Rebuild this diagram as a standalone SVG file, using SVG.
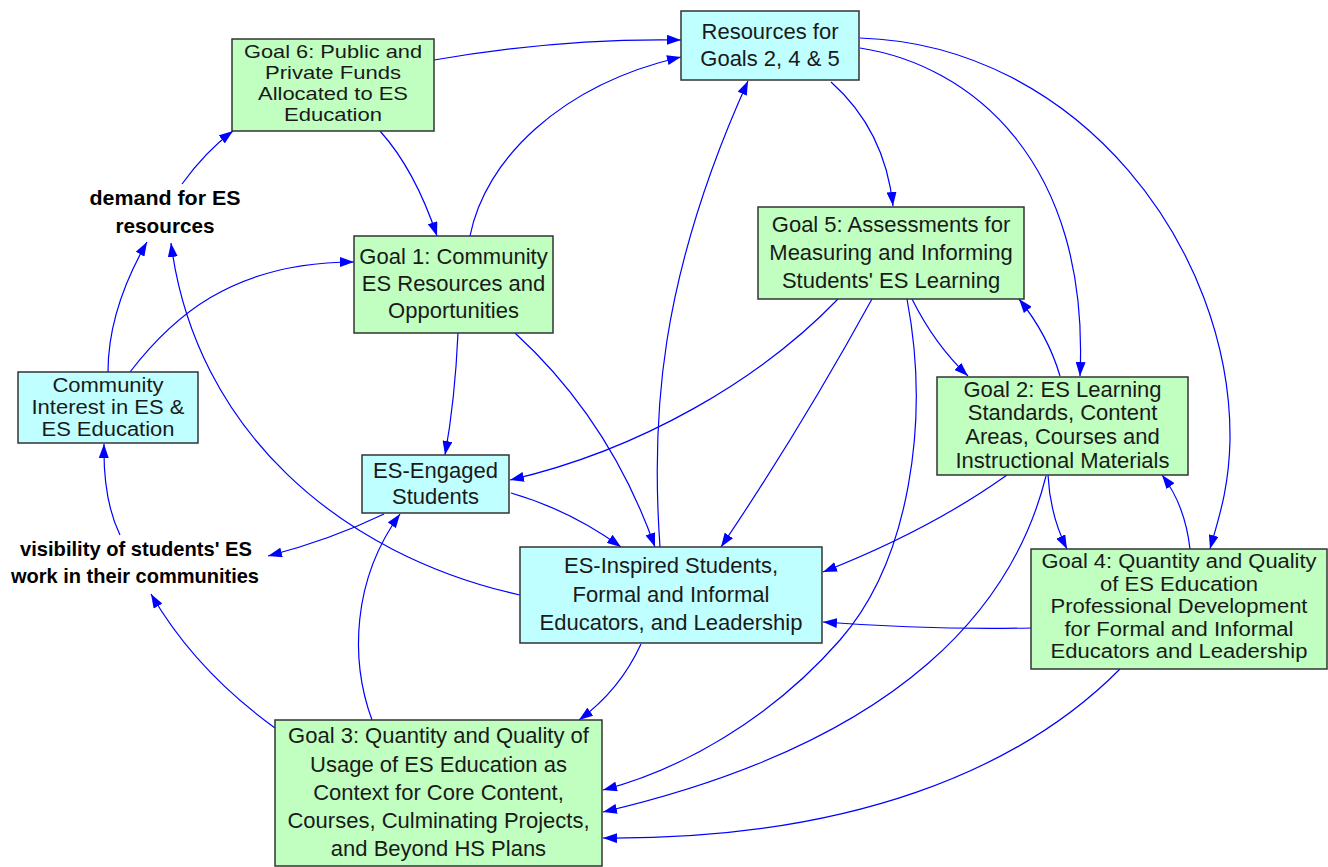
<svg xmlns="http://www.w3.org/2000/svg" width="1328" height="867" viewBox="0 0 1328 867">
<style>
.g{fill:#C0FFC0;stroke:#333;stroke-width:1.5}
.c{fill:#C0FFFF;stroke:#333;stroke-width:1.5}
text{font-family:"Liberation Sans",Arial,sans-serif;font-size:22px;fill:#1a1a1a;text-anchor:middle}
.t19{font-size:19px}
.t20{font-size:20px}
.b{font-weight:bold;font-size:21px;fill:#000}
#edges path{fill:none;stroke:#0000FF;stroke-width:1.2;marker-end:url(#a)}
</style>
<defs>
<marker id="a" viewBox="0 0 14 10" refX="14" refY="5" markerWidth="14" markerHeight="10" orient="auto" markerUnits="userSpaceOnUse"><path d="M0,0 L14,5 L0,10 z" fill="#0000FF"/></marker>
</defs>
<rect width="1328" height="867" fill="#fff"/>
<g id="edges">
<path d="M434,60 Q560,38 681,40"/>
<path d="M470,236 C485,160 560,85 681,57"/>
<path d="M660,547 C651,420 658,280 748,81"/>
<path d="M831,82 Q885,130 893,206"/>
<path d="M860,48 C970,65 1090,160 1080,376"/>
<path d="M860,38 C1080,45 1232,250 1230,440 C1229,490 1218,520 1210,549"/>
<path d="M380,131 Q415,170 437,236"/>
<path d="M182,184 Q205,152 233,131"/>
<path d="M108,372 Q108,310 147,242"/>
<path d="M130,372 C170,320 230,262 354,262"/>
<path d="M520,595 C340,555 195,430 171,243"/>
<path d="M120,535 Q103,500 104,444"/>
<path d="M384,514 Q330,540 268,556"/>
<path d="M275,728 Q195,670 151,594"/>
<path d="M372,720 C350,660 352,580 400,514"/>
<path d="M458,333 Q455,400 445,455"/>
<path d="M515,333 Q610,420 655,547"/>
<path d="M511,493 Q570,510 621,547"/>
<path d="M838,299 C760,380 640,450 510,480"/>
<path d="M872,299 Q800,430 721,547"/>
<path d="M912,299 Q935,345 968,376"/>
<path d="M907,299 C930,420 910,560 840,640 C770,720 680,770 603,790"/>
<path d="M1060,376 Q1048,335 1019,299"/>
<path d="M1007,475 Q930,530 823,572"/>
<path d="M1048,475 Q1050,515 1067,549"/>
<path d="M1046,476 C1015,600 910,740 603,812"/>
<path d="M1190,549 Q1185,505 1162,475"/>
<path d="M1031,628 Q930,630 823,622"/>
<path d="M1120,669 C1020,770 850,840 603,838"/>
<path d="M641,644 Q620,690 579,720"/>
</g>
<g id="goal6"><rect class="g" x="232" y="39" width="202" height="92"/>
<text class="t19" x="333" y="58" textLength="178" lengthAdjust="spacingAndGlyphs">Goal 6: Public and</text><text class="t19" x="333" y="79" textLength="136" lengthAdjust="spacingAndGlyphs">Private Funds</text><text class="t19" x="333" y="100" textLength="150" lengthAdjust="spacingAndGlyphs">Allocated to ES</text><text class="t19" x="333" y="121" textLength="98" lengthAdjust="spacingAndGlyphs">Education</text></g>
<g id="resources"><rect class="c" x="681" y="11" width="178" height="69"/>
<text x="770" y="39">Resources for</text><text x="770" y="66">Goals 2, 4 &amp; 5</text></g>
<g id="goal1"><rect class="g" x="354" y="236" width="199" height="97"/>
<text x="453.5" y="264">Goal 1: Community</text><text x="453.5" y="291">ES Resources and</text><text x="453.5" y="318">Opportunities</text></g>
<g id="goal5"><rect class="g" x="758" y="207" width="266" height="92"/>
<text x="891" y="232">Goal 5: Assessments for</text><text x="891" y="260">Measuring and Informing</text><text x="891" y="288">Students' ES Learning</text></g>
<g id="goal2"><rect class="g" x="937" y="377" width="251" height="98"/>
<text x="1062.5" y="397">Goal 2: ES Learning</text><text x="1062.5" y="420">Standards, Content</text><text x="1062.5" y="444">Areas, Courses and</text><text x="1062.5" y="468">Instructional Materials</text></g>
<g id="goal4"><rect class="g" x="1031" y="549" width="296" height="120"/>
<text class="t20" x="1179" y="568" textLength="275" lengthAdjust="spacingAndGlyphs">Goal 4: Quantity and Quality</text><text class="t20" x="1179" y="591" textLength="158" lengthAdjust="spacingAndGlyphs">of ES Education</text><text class="t20" x="1179" y="613" textLength="257" lengthAdjust="spacingAndGlyphs">Professional Development</text><text class="t20" x="1179" y="636" textLength="229" lengthAdjust="spacingAndGlyphs">for Formal and Informal</text><text class="t20" x="1179" y="658" textLength="257" lengthAdjust="spacingAndGlyphs">Educators and Leadership</text></g>
<g id="community"><rect class="c" x="18" y="372" width="180" height="71"/>
<text class="t20" x="108" y="392" textLength="111" lengthAdjust="spacingAndGlyphs">Community</text><text class="t20" x="108" y="414" textLength="153" lengthAdjust="spacingAndGlyphs">Interest in ES &amp;</text><text class="t20" x="108" y="436" textLength="133" lengthAdjust="spacingAndGlyphs">ES Education</text></g>
<g id="engaged"><rect class="c" x="362" y="455" width="147" height="58"/>
<text x="435.5" y="478">ES-Engaged</text><text x="435.5" y="504">Students</text></g>
<g id="inspired"><rect class="c" x="520" y="547" width="302" height="96"/>
<text x="671" y="573">ES-Inspired Students,</text><text x="671" y="602">Formal and Informal</text><text x="671" y="630">Educators, and Leadership</text></g>
<g id="goal3"><rect class="g" x="275" y="720" width="327" height="146"/>
<text x="438.5" y="743">Goal 3: Quantity and Quality of</text><text x="438.5" y="772">Usage of ES Education as</text><text x="438.5" y="800">Context for Core Content,</text><text x="438.5" y="828">Courses, Culminating Projects,</text><text x="438.5" y="856">and Beyond HS Plans</text></g>
<g id="demand"><text class="b" x="165" y="205" textLength="151" lengthAdjust="spacingAndGlyphs">demand for ES</text><text class="b" x="165" y="233" textLength="99" lengthAdjust="spacingAndGlyphs">resources</text></g>
<g id="visibility"><text class="b" x="136" y="556" textLength="232" lengthAdjust="spacingAndGlyphs">visibility of students' ES</text><text class="b" x="135" y="583" textLength="248" lengthAdjust="spacingAndGlyphs">work in their communities</text></g>
</svg>
